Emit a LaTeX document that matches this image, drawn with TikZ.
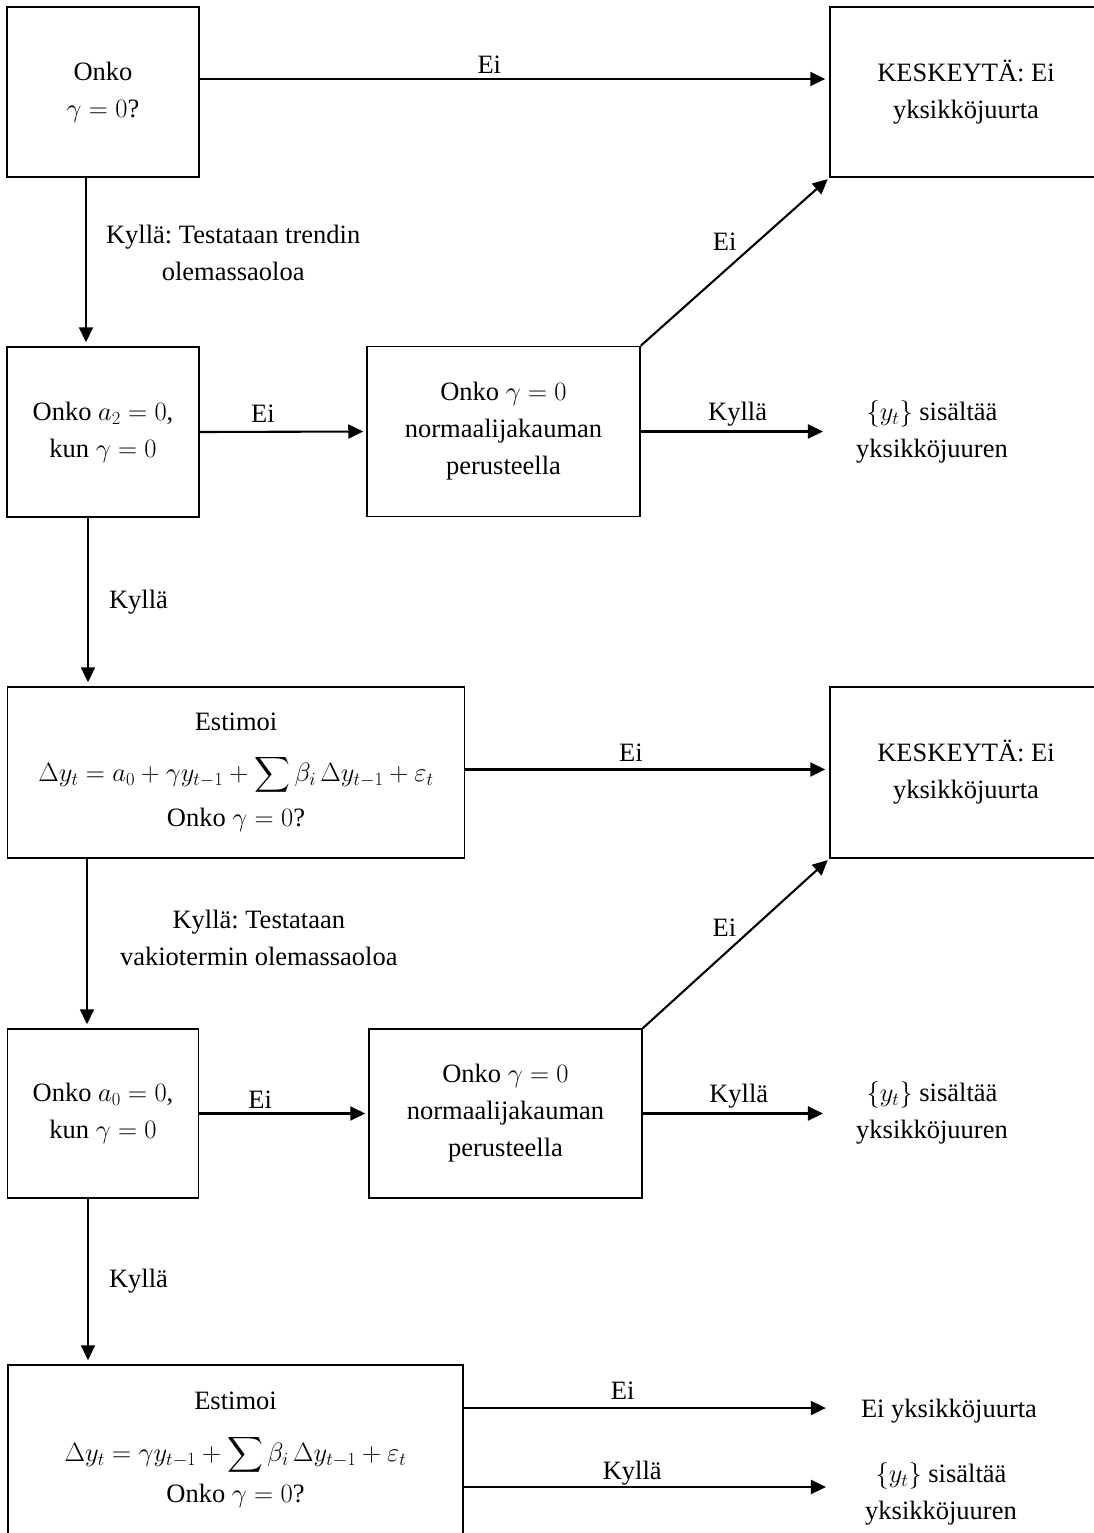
\RequirePackage{fix-cm}
\documentclass[tikz,border=0pt]{standalone}
\usepackage{amsmath}
\usepackage{fontspec}
\setmainfont{Liberation Serif}
\usetikzlibrary{arrows.meta,calc}
\frenchspacing
\begin{document}
\begin{tikzpicture}[x=1pt,y=-1pt,
  font=\fontsize{26.5}{37}\selectfont,
  box/.style={draw, line width=1.5pt, align=center, inner sep=0pt},
  arr/.style={line width=2.1pt, -{Triangle[length=15pt,width=14pt]}},
  lab/.style={inner sep=4pt, align=center},
  txt/.style={align=center, inner sep=0pt}]
\useasboundingbox (0,0) rectangle (1093,1533);

% boxes
\node[box, minimum width=192, minimum height=170] (b1) at (103,92) {Onko\\$\gamma = 0$?};
\node[box, minimum width=272, minimum height=170] (k1) at (966,92) {KESKEYTÄ: Ei\\yksikköjuurta};
\node[box, minimum width=192, minimum height=170] (b2) at (103,432) {Onko $a_2 = 0$,\\kun $\gamma = 0$};
\node[box, minimum width=273, minimum height=170] (b3) at (503.5,431.5) {Onko $\gamma = 0$\\normaalijakauman\\perusteella};
\node[txt] (t1) at (932,432) {$\{y_t\}$ sisältää\\yksikköjuuren};
\node[box, minimum width=457, minimum height=171] (b5) at (236,772.5) {Estimoi\\[14pt]$\Delta y_t = a_0 + \gamma y_{t-1} + \displaystyle\sum \beta_i\,\Delta y_{t-1} + \varepsilon_t$\\[8pt]Onko $\gamma = 0$?};
\node[box, minimum width=272, minimum height=171] (k2) at (966,772.5) {KESKEYTÄ: Ei\\yksikköjuurta};
\node[box, minimum width=191, minimum height=169] (b6) at (103,1113.5) {Onko $a_0 = 0$,\\kun $\gamma = 0$};
\node[box, minimum width=273, minimum height=169] (b7) at (505.5,1113.5) {Onko $\gamma = 0$\\normaalijakauman\\perusteella};
\node[txt] (t2) at (932,1113) {$\{y_t\}$ sisältää\\yksikköjuuren};
\node[box, minimum width=455, minimum height=170] (b8) at (235.5,1450) {Estimoi\\[15pt]$\Delta y_t = \gamma y_{t-1} + \displaystyle\sum \beta_i\,\Delta y_{t-1} + \varepsilon_t$\\[4pt]Onko $\gamma = 0$?};
\node[txt] (t3) at (949,1411) {Ei yksikköjuurta};
\node[txt] (t4) at (941,1494) {$\{y_t\}$ sisältää\\yksikköjuuren};

% helper coordinates
\coordinate (c1) at ([xshift=-17]b1.south);
\coordinate (c2) at ([xshift=-15]b2.south);
\coordinate (c3) at ([xshift=-16]b6.north);
\coordinate (c4) at ([xshift=-15]b6.south);
\coordinate (e1) at ([yshift=13]b1.east);
\coordinate (e2) at ([yshift=3]b5.east);
\coordinate (e3) at ([yshift=42]b8.east);
\coordinate (e4) at ([yshift=-37]b8.east);

% connectors
\draw[arr, shorten >=4pt] (e1) -- node[lab, above, pos=0.46]{Ei} (e1 -| k1.west);
\draw[arr, shorten >=4pt] (c1) -- node[lab, anchor=west, inner sep=2pt, xshift=17, yshift=9]{Kyllä: Testataan trendin\\olemassaoloa} (c1 |- b2.north);
\draw[arr, shorten >=3pt] (b2.east) -- node[lab, above, pos=0.38, yshift=4]{Ei} (b3.west);
\draw[arr, shorten >=33pt] (b3.east) -- node[lab, above, pos=0.45]{Kyllä} (b3.east -| t1.west);
\draw[arr, shorten >=2pt] (b3.north east) -- node[lab, anchor=south east, inner sep=2pt, pos=0.55, xshift=-5]{Ei} (k1.south west);
\draw[arr, shorten >=4pt] (c2) -- node[lab, anchor=west, inner sep=2pt, xshift=18]{Kyllä} (c2 |- b5.north);
\draw[arr, shorten >=4pt] (e2) -- node[lab, above, pos=0.455, yshift=3]{Ei} (e2 -| k2.west);
\draw[arr, shorten >=2pt] (b7.north east) -- node[lab, anchor=south east, inner sep=2pt, pos=0.55, xshift=-6, yshift=-5]{Ei} (k2.south west);
\draw[arr, shorten >=4pt] (c3 |- b5.south) -- node[lab, anchor=west, inner sep=2pt, xshift=30, yshift=6]{Kyllä: Testataan\\vakiotermin olemassaoloa} (c3);
\draw[arr, shorten >=3pt] (b6.east) -- node[lab, above, pos=0.36]{Ei} (b7.west);
\draw[arr, shorten >=33pt] (b7.east) -- node[lab, above, pos=0.45]{Kyllä} (b7.east -| t2.west);
\draw[arr, shorten >=4pt] (c4) -- node[lab, anchor=west, inner sep=2pt, xshift=18]{Kyllä} (c4 |- b8.north);
\draw[arr, shorten >=35pt] (e3) -- node[lab, above, pos=0.40, yshift=3]{Ei} (e3 -| t3.west);
\draw[arr, shorten >=39pt] (e4) -- node[lab, above, pos=0.42, inner sep=1pt]{Kyllä} (e4 -| t4.west);
\end{tikzpicture}
\end{document}
